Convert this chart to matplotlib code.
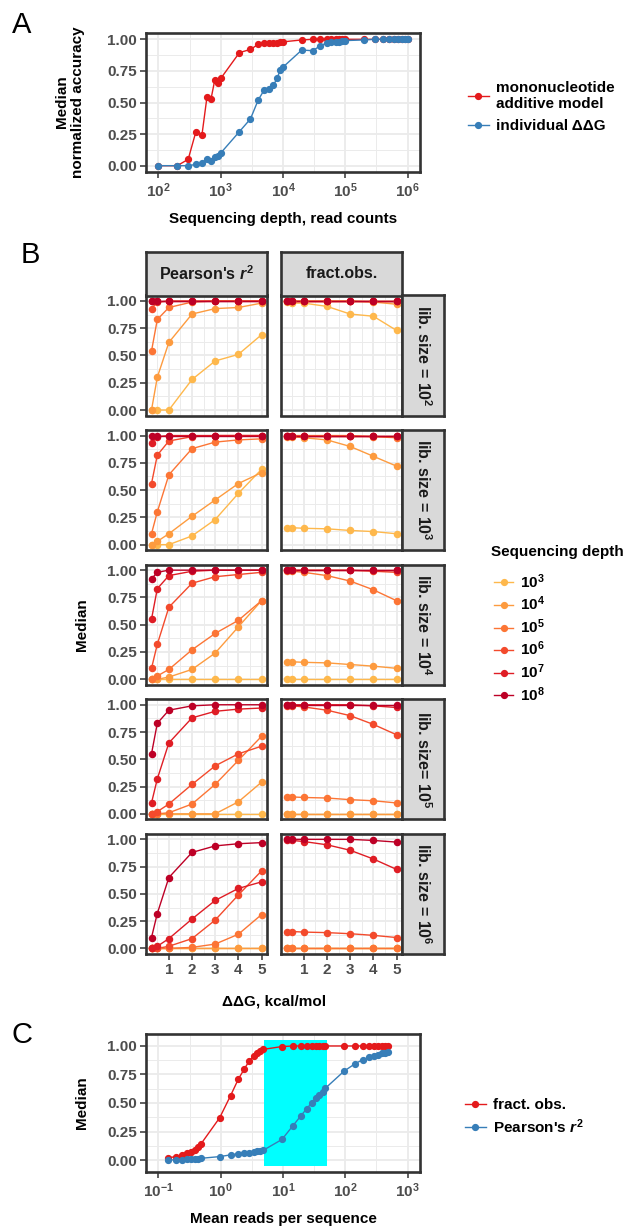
import numpy as np
import matplotlib
matplotlib.use('Agg')
import matplotlib.pyplot as plt
from matplotlib.lines import Line2D
from matplotlib.patches import Rectangle
from matplotlib.ticker import FixedLocator, NullFormatter, FixedFormatter

plt.rcParams['font.family'] = ['Liberation Sans', 'DejaVu Sans']
plt.rcParams['font.weight'] = 'bold'
plt.rcParams['mathtext.fontset'] = 'custom'
plt.rcParams['mathtext.rm'] = 'Liberation Sans:bold'
plt.rcParams['mathtext.it'] = 'Liberation Sans:italic:bold'
plt.rcParams['mathtext.bf'] = 'Liberation Sans:bold'
plt.rcParams['axes.unicode_minus'] = False

# ---------------- data ----------------
# Panel A
depth_A = [100, 200, 300, 400, 500, 600, 700, 800, 900, 1000,
           2000, 3000, 4000, 5000, 6000, 7000, 8000, 9000, 10000,
           20000, 30000, 40000, 50000, 60000, 70000, 80000, 90000, 100000,
           200000, 300000, 400000, 500000, 600000, 700000, 800000, 900000, 1000000]
acc_additive = [0.0, 0.0, 0.05, 0.27, 0.245, 0.54, 0.53, 0.675, 0.655, 0.69,
                0.895, 0.92, 0.96, 0.97, 0.97, 0.97, 0.97, 0.98, 0.98,
                0.995, 1.0, 1.0, 1.0, 1.0, 1.0, 1.0, 1.0, 1.0,
                1.0, 1.0, 1.0, 1.0, 1.0, 1.0, 1.0, 1.0, 1.0]
acc_individual = [0.0, 0.0, 0.0, 0.01, 0.02, 0.05, 0.04, 0.065, 0.08, 0.10,
                  0.27, 0.37, 0.52, 0.60, 0.605, 0.635, 0.69, 0.755, 0.78,
                  0.915, 0.91, 0.95, 0.97, 0.975, 0.98, 0.98, 0.985, 0.99,
                  0.995, 1.0, 1.0, 1.0, 1.0, 1.0, 1.0, 1.0, 1.0]
labels_A = ["mononucleotide\nadditive model", "individual ΔΔG"]

# Panel B
ddg = [0.25, 0.5, 1, 2, 3, 4, 5]
depth_labels = ["$10^{3}$", "$10^{4}$", "$10^{5}$", "$10^{6}$", "$10^{7}$", "$10^{8}$"]
lib_labels = ["lib. size = $10^{2}$", "lib. size = $10^{3}$", "lib. size = $10^{4}$",
              "lib. size= $10^{5}$", "lib. size = $10^{6}$"]
col_labels = ["Pearson's $r^{2}$", "fract.obs."]

pearson_lib1e2 = [[0, 0, 0, 0.28, 0.45, 0.51, 0.69],
                  [0, 0.30, 0.62, 0.88, 0.93, 0.94, 0.98],
                  [0.54, 0.83, 0.94, 0.99, 1, 1, 1],
                  [0.93, 0.99, 1, 1, 1, 1, 1],
                  [1, 1, 1, 1, 1, 1, 1],
                  [1, 1, 1, 1, 1, 1, 1]]
pearson_lib1e3 = [[0, 0, 0, 0.08, 0.23, 0.47, 0.69],
                  [0, 0.03, 0.10, 0.26, 0.41, 0.56, 0.66],
                  [0.10, 0.30, 0.64, 0.88, 0.94, 0.96, 0.97],
                  [0.56, 0.82, 0.95, 0.99, 1, 1, 1],
                  [0.93, 0.99, 1, 1, 1, 1, 1],
                  [1, 1, 1, 1, 1, 1, 1]]
pearson_lib1e4 = [[0, 0, 0, 0, 0, 0, 0],
                  [0, 0, 0.02, 0.09, 0.24, 0.48, 0.72],
                  [0, 0.03, 0.09, 0.27, 0.42, 0.54, 0.72],
                  [0.10, 0.32, 0.66, 0.88, 0.94, 0.96, 0.98],
                  [0.55, 0.83, 0.95, 0.99, 1, 1, 1],
                  [0.92, 0.98, 1, 1, 1, 1, 1]]
pearson_lib1e5 = [[0, 0, 0, 0, 0, 0, 0],
                  [0, 0, 0, 0, 0, 0.11, 0.29],
                  [0, 0, 0.01, 0.09, 0.27, 0.49, 0.71],
                  [0, 0.02, 0.09, 0.27, 0.44, 0.55, 0.62],
                  [0.10, 0.32, 0.65, 0.88, 0.94, 0.96, 0.97],
                  [0.55, 0.83, 0.95, 0.99, 1, 1, 1]]
pearson_lib1e6 = [[0, 0, 0, 0, 0, 0, 0],
                  [0, 0, 0, 0, 0, 0, 0],
                  [0, 0, 0, 0.01, 0.04, 0.13, 0.31],
                  [0, 0, 0.02, 0.09, 0.26, 0.49, 0.71],
                  [0, 0.02, 0.09, 0.27, 0.44, 0.55, 0.61],
                  [0.10, 0.32, 0.65, 0.88, 0.94, 0.96, 0.97]]

fract_lib1e2 = [[0.99, 0.98, 0.98, 0.95, 0.88, 0.86, 0.73],
                [1, 1, 1, 1, 1, 0.99, 0.97],
                [1, 1, 1, 1, 1, 1, 1],
                [1, 1, 1, 1, 1, 1, 1],
                [1, 1, 1, 1, 1, 1, 1],
                [1, 1, 1, 1, 1, 1, 1]]
fract_lib1e3 = [[0.155, 0.155, 0.15, 0.145, 0.13, 0.12, 0.10],
                [0.99, 0.99, 0.98, 0.96, 0.90, 0.81, 0.72],
                [1, 1, 1, 1, 1, 0.99, 0.98],
                [1, 1, 1, 1, 1, 1, 1],
                [1, 1, 1, 1, 1, 1, 1],
                [1, 1, 1, 1, 1, 1, 1]]
fract_lib1e4 = [[0, 0, 0, 0, 0, 0, 0],
                [0.16, 0.16, 0.155, 0.15, 0.135, 0.12, 0.10],
                [0.99, 0.99, 0.98, 0.95, 0.90, 0.82, 0.72],
                [1, 1, 1, 1, 1, 0.99, 0.98],
                [1, 1, 1, 1, 1, 1, 1],
                [1, 1, 1, 1, 1, 1, 1]]
fract_lib1e5 = [[0, 0, 0, 0, 0, 0, 0],
                [0, 0, 0, 0, 0, 0, 0],
                [0.155, 0.155, 0.15, 0.145, 0.13, 0.12, 0.10],
                [0.99, 0.99, 0.98, 0.95, 0.90, 0.82, 0.725],
                [1, 1, 1, 1, 1, 0.99, 0.975],
                [1, 1, 1, 1, 1, 1, 1]]
fract_lib1e6 = [[0, 0, 0, 0, 0, 0, 0],
                [0, 0, 0, 0, 0, 0, 0],
                [0, 0, 0, 0, 0, 0, 0],
                [0.155, 0.155, 0.15, 0.145, 0.135, 0.12, 0.10],
                [0.99, 0.99, 0.98, 0.95, 0.90, 0.82, 0.725],
                [1, 1, 1, 1, 1, 0.99, 0.975]]

pearson_rows = [pearson_lib1e2, pearson_lib1e3, pearson_lib1e4, pearson_lib1e5, pearson_lib1e6]
fract_rows = [fract_lib1e2, fract_lib1e3, fract_lib1e4, fract_lib1e5, fract_lib1e6]

# Panel C
reads_per_seq = [0.144, 0.192, 0.24, 0.288, 0.336, 0.384, 0.432, 0.48,
                 0.96, 1.44, 1.92, 2.4, 2.88, 3.36, 3.84, 4.32, 4.8,
                 9.6, 14.4, 19.2, 24, 28.8, 33.6, 38.4, 43.2, 48,
                 96, 144, 192, 240, 288, 336, 384, 432, 480]
fract_obs_C = [0.02, 0.03, 0.04, 0.06, 0.07, 0.09, 0.11, 0.14,
               0.37, 0.565, 0.71, 0.80, 0.87, 0.91, 0.94, 0.96, 0.97,
               0.995, 1.0, 1.0, 1.0, 1.0, 1.0, 1.0, 1.0, 1.0,
               1.0, 1.0, 1.0, 1.0, 1.0, 1.0, 1.0, 1.0, 1.0]
pearson_C = [0.0, 0.002, 0.004, 0.006, 0.008, 0.01, 0.012, 0.015,
             0.03, 0.045, 0.055, 0.06, 0.065, 0.07, 0.075, 0.08, 0.085,
             0.18, 0.30, 0.385, 0.45, 0.50, 0.54, 0.57, 0.60, 0.63,
             0.78, 0.845, 0.88, 0.90, 0.915, 0.925, 0.935, 0.94, 0.947]
labels_C = ["fract. obs.", "Pearson's $r^{2}$"]
highlight_range = (5, 50)

# ---------------- style ----------------
W, H = 629, 1228
RED, BLUE = '#E41A1C', '#377EB8'
depth_colors = ['#FEB84C', '#FD9B3F', '#FC7535', '#F34A2C', '#DF1D25', '#BD0026']
GRID = '#EBEBEB'
BORDER = '#333333'
TICKC = '#4D4D4D'
FS = 11      # tick labels
TFS = 11     # axis titles / legends
SFS = 11.5   # strips

fig = plt.figure(figsize=(W / 100, H / 100), dpi=100)


def px_axes(x0, y0, w, h):
    return fig.add_axes([x0 / W, 1 - (y0 + h) / H, w / W, h / H])


def fx(x):
    return x / W


def fy(y):
    return 1 - y / H


def style_axes(ax, xmaj, xmin, ymaj, ymin, xlabels=True, ylabels=True):
    ax.set_facecolor('white')
    ax.xaxis.set_major_locator(FixedLocator(xmaj))
    ax.xaxis.set_minor_locator(FixedLocator(xmin))
    ax.yaxis.set_major_locator(FixedLocator(ymaj))
    ax.yaxis.set_minor_locator(FixedLocator(ymin))
    ax.xaxis.set_minor_formatter(NullFormatter())
    ax.yaxis.set_minor_formatter(NullFormatter())
    ax.grid(True, which='major', color=GRID, lw=1.3, zorder=0)
    ax.grid(True, which='minor', color=GRID, lw=0.7, zorder=0)
    ax.set_axisbelow(True)
    for s in ax.spines.values():
        s.set_color(BORDER)
        s.set_linewidth(1.9)
        s.set_zorder(5)
    ax.tick_params(which='minor', length=0)
    ax.tick_params(which='major', length=4.5, width=1.1, color=BORDER,
                   labelcolor=TICKC, labelsize=FS, pad=2)
    if not xlabels:
        ax.tick_params(axis='x', which='major', length=0, labelbottom=False)
    if not ylabels:
        ax.tick_params(axis='y', which='major', length=0, labelleft=False)


ymaj = [0, 0.25, 0.5, 0.75, 1.0]
ymin_ = [0.125, 0.375, 0.625, 0.875]
ytl = ['0.00', '0.25', '0.50', '0.75', '1.00']

# ---------------- Panel A ----------------
axA = px_axes(146, 33, 274, 139)
axA.set_xscale('log')
axA.set_xlim(10 ** 1.8, 10 ** 6.2)
axA.set_ylim(-0.05, 1.05)
style_axes(axA, [1e2, 1e3, 1e4, 1e5, 1e6],
           [10 ** 2.5, 10 ** 3.5, 10 ** 4.5, 10 ** 5.5], ymaj, ymin_)
axA.xaxis.set_major_formatter(FixedFormatter(['$10^{2}$', '$10^{3}$', '$10^{4}$', '$10^{5}$', '$10^{6}$']))
axA.yaxis.set_major_formatter(FixedFormatter(ytl))
axA.plot(depth_A, acc_additive, color=RED, lw=1.0, zorder=2)
axA.plot(depth_A, acc_individual, color=BLUE, lw=1.0, zorder=2)
axA.plot(depth_A, acc_additive, 'o', color=RED, ms=4.2, zorder=3)
axA.plot(depth_A, acc_individual, 'o', color=BLUE, ms=4.2, zorder=3)
axA.set_xlabel('Sequencing depth, read counts', fontsize=TFS, fontweight='bold', labelpad=9)
fig.text(fx(70), fy(102), 'Median\nnormalized accuracy', rotation=90, ha='center',
         va='center', fontsize=TFS, fontweight='bold', linespacing=1.1,
         multialignment='center')
hA = [Line2D([], [], color=RED, lw=1.0, marker='o', ms=4.2),
      Line2D([], [], color=BLUE, lw=1.0, marker='o', ms=4.2)]
fig.legend(hA, labels_A, loc='upper left', bbox_to_anchor=(fx(462), fy(75)),
           frameon=False, fontsize=TFS, handlelength=1.35, handletextpad=0.45,
           labelspacing=0.5, borderaxespad=0)
fig.text(fx(22), fy(25), 'A', fontsize=21, fontweight='normal', ha='center', va='center')

# ---------------- Panel B ----------------
col_x = [146, 281]
col_w = 121
row_h = 120
row_step = 134.6
row_top0 = 295.5
for r in range(5):
    top = row_top0 + r * row_step
    for c in range(2):
        ax = px_axes(col_x[c], top, col_w, row_h)
        ax.set_xlim(0.0125, 5.2375)
        ax.set_ylim(-0.05, 1.05)
        style_axes(ax, [1, 2, 3, 4, 5], [0.5, 1.5, 2.5, 3.5, 4.5], ymaj, ymin_,
                   xlabels=(r == 4), ylabels=(c == 0))
        ax.yaxis.set_major_formatter(FixedFormatter(ytl))
        data = pearson_rows[r] if c == 0 else fract_rows[r]
        for k, series in enumerate(data):
            ax.plot(ddg, series, color=depth_colors[k], lw=1.0, zorder=2)
        for k, series in enumerate(data):
            ax.plot(ddg, series, 'o', color=depth_colors[k], ms=4.4, zorder=3)
        if r == 0:
            sax = px_axes(col_x[c], 251.7, col_w, 43.8)
            sax.set_facecolor('#D9D9D9')
            sax.set_xticks([]); sax.set_yticks([])
            for s in sax.spines.values():
                s.set_color(BORDER); s.set_linewidth(1.9)
            sax.text(0.5, 0.5, col_labels[c], transform=sax.transAxes, ha='center',
                     va='center', fontsize=SFS, fontweight='bold', color='#1A1A1A')
    rax = px_axes(402, top, 42, row_h)
    rax.set_facecolor('#D9D9D9')
    rax.set_xticks([]); rax.set_yticks([])
    for s in rax.spines.values():
        s.set_color(BORDER); s.set_linewidth(1.9)
    rax.text(0.5, 0.5, lib_labels[r], transform=rax.transAxes, ha='center', va='center',
             rotation=-90, fontsize=SFS, fontweight='bold', color='#1A1A1A')

fig.text(fx(82), fy(625), 'Median', rotation=90, ha='center', va='center',
         fontsize=TFS, fontweight='bold')
fig.text(fx(274), fy(1001), 'ΔΔG, kcal/mol', ha='center', va='center',
         fontsize=TFS, fontweight='bold')
fig.text(fx(491), fy(552), 'Sequencing depth', ha='left', va='center',
         fontsize=TFS, fontweight='bold')
hB = [Line2D([], [], color=col, lw=1.0, marker='o', ms=4.2) for col in depth_colors]
fig.legend(hB, depth_labels, loc='upper left', bbox_to_anchor=(fx(488), fy(566)),
           frameon=False, fontsize=TFS, handlelength=1.25, handletextpad=0.45,
           labelspacing=0.26, borderaxespad=0)
fig.text(fx(30), fy(255), 'B', fontsize=21, fontweight='normal', ha='center', va='center')

# ---------------- Panel C ----------------
axC = px_axes(146, 1034, 274, 138)
axC.set_xscale('log')
axC.set_xlim(10 ** -1.2, 10 ** 3.2)
axC.set_ylim(-0.105, 1.105)
style_axes(axC, [1e-1, 1e0, 1e1, 1e2, 1e3],
           [10 ** -0.5, 10 ** 0.5, 10 ** 1.5, 10 ** 2.5], ymaj, ymin_)
axC.xaxis.set_major_formatter(FixedFormatter(['$10^{-1}$', '$10^{0}$', '$10^{1}$', '$10^{2}$', '$10^{3}$']))
axC.yaxis.set_major_formatter(FixedFormatter(ytl))
axC.add_patch(Rectangle((highlight_range[0], -0.05), highlight_range[1] - highlight_range[0], 1.1,
                        facecolor='#00FFFF', edgecolor='none', zorder=1))
axC.plot(reads_per_seq, fract_obs_C, color=RED, lw=1.0, zorder=2)
axC.plot(reads_per_seq, pearson_C, color=BLUE, lw=1.0, zorder=2)
axC.plot(reads_per_seq, fract_obs_C, 'o', color=RED, ms=4.2, zorder=3)
axC.plot(reads_per_seq, pearson_C, 'o', color=BLUE, ms=4.2, zorder=3)
axC.set_xlabel('Mean reads per sequence', fontsize=TFS, fontweight='bold', labelpad=9)
fig.text(fx(82), fy(1103), 'Median', rotation=90, ha='center', va='center',
         fontsize=TFS, fontweight='bold')
hC = [Line2D([], [], color=RED, lw=1.0, marker='o', ms=4.2),
      Line2D([], [], color=BLUE, lw=1.0, marker='o', ms=4.2)]
fig.legend(hC, labels_C, loc='upper left', bbox_to_anchor=(fx(459), fy(1092)),
           frameon=False, fontsize=TFS, handlelength=1.35, handletextpad=0.45,
           labelspacing=0.32, borderaxespad=0)
fig.text(fx(22), fy(1035), 'C', fontsize=21, fontweight='normal', ha='center', va='center')

fig.savefig('out.png', dpi=100)
